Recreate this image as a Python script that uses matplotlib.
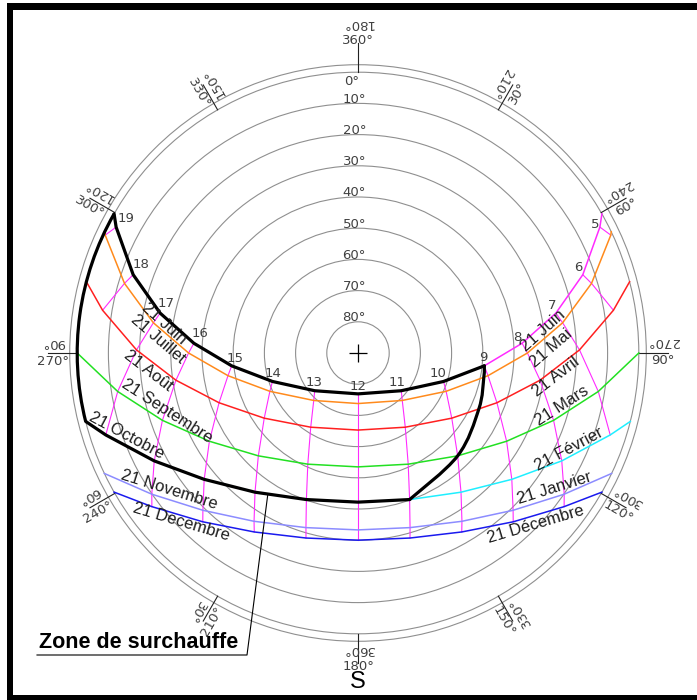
import numpy as np
import matplotlib
matplotlib.use("Agg")
import matplotlib.pyplot as plt
from matplotlib.patches import Circle, Arc, Rectangle, PathPatch
from matplotlib.path import Path

JUIN_H   = [4.75, 5, 6, 7, 8, 9, 10, 11, 12, 13, 14, 15, 16, 17, 18, 19, 19.25]
JUIN_AZ  = [60.3, 62.5, 70.8, 78.6, 86.6, 95.8, 108.4, 131.1, 180.0, 228.9, 251.6, 264.2, 273.4, 281.4, 289.2, 297.5, 299.7]
JUIN_ALT = [0.0, 2.6, 13.7, 25.3, 37.3, 49.3, 61.1, 71.6, 76.9, 71.6, 61.1, 49.3, 37.3, 25.3, 13.7, 2.6, 0.0]

MAI_H   = [4.94, 5, 6, 7, 8, 9, 10, 11, 12, 13, 14, 15, 16, 17, 18, 19, 19.06]
MAI_AZ  = [64.4, 65.0, 73.4, 81.6, 90.0, 99.9, 113.5, 137.0, 180.0, 223.0, 246.5, 260.1, 270.0, 278.4, 286.6, 295.0, 295.6]
MAI_ALT = [0.0, 0.6, 11.9, 23.7, 35.7, 47.7, 59.2, 69.2, 73.8, 69.2, 59.2, 47.7, 35.7, 23.7, 11.9, 0.6, 0.0]

AVRIL_H   = [5.41, 6, 7, 8, 9, 10, 11, 12, 13, 14, 15, 16, 17, 18, 18.59]
AVRIL_AZ  = [75.3, 80.5, 89.2, 98.5, 109.7, 124.8, 147.5, 180.0, 212.5, 235.2, 250.3, 261.5, 270.8, 279.5, 284.7]
AVRIL_ALT = [0.0, 7.0, 19.0, 31.0, 42.7, 53.4, 61.8, 65.3, 61.8, 53.4, 42.7, 31.0, 19.0, 7.0, 0.0]

MARS_H   = [6, 7, 8, 9, 10, 11, 12, 13, 14, 15, 16, 17, 18]
MARS_AZ  = [90.0, 99.1, 109.0, 120.7, 135.9, 155.7, 180.0, 204.3, 224.1, 239.3, 251.0, 260.9, 270.0]
MARS_ALT = [0.0, 12.0, 23.7, 34.6, 44.1, 50.9, 53.5, 50.9, 44.1, 34.6, 23.7, 12.0, 0.0]

FEV_H   = [6.57, 7, 8, 9, 10, 11, 12, 13, 14, 15, 16, 17, 17.43]
FEV_AZ  = [104.1, 108.0, 117.9, 129.4, 143.5, 160.6, 180.0, 199.4, 216.5, 230.6, 242.1, 252.0, 255.9]
FEV_ALT = [0.0, 5.0, 16.1, 26.2, 34.5, 40.2, 42.2, 40.2, 34.5, 26.2, 16.1, 5.0, 0.0]

JANV_H   = [7.05, 8, 9, 10, 11, 12, 13, 14, 15, 16, 16.95]
JANV_AZ  = [115.4, 124.4, 135.4, 148.3, 163.4, 180.0, 196.6, 211.7, 224.6, 235.6, 244.6]
JANV_ALT = [0.0, 9.9, 19.2, 26.6, 31.6, 33.3, 31.6, 26.6, 19.2, 9.9, 0.0]

DEC_H   = [7.25, 8, 9, 10, 11, 12, 13, 14, 15, 16, 16.75]
DEC_AZ  = [119.7, 126.7, 137.4, 149.9, 164.3, 180.0, 195.7, 210.1, 222.6, 233.3, 240.3]
DEC_ALT = [0.0, 7.6, 16.5, 23.7, 28.4, 30.0, 28.4, 23.7, 16.5, 7.6, 0.0]

# début de la zone de surchauffe (heure) pour juin, juil., août, sept., oct.
ZONE_HOURS = [9.0, 9.1, 9.4, 10.0, 11.0]

LABELS_EST   = ["21 Juin", "21 Mai", "21 Avril", "21 Mars", "21 Février", "21 Janvier", "21 Décembre"]
LABELS_OUEST = ["21 Juin", "21 Juillet", "21 Août", "21 Septembre", "21 Octobre", "21 Novembre", "21 Decembre"]

RINGS    = [0, 10, 20, 30, 40, 50, 60, 70, 80]
AZ_TICKS = [0, 30, 60, 90, 120, 150, 180, 210, 240, 270, 300, 330]
HOURS    = list(range(5, 20))

# --- mise en page ---
W, H = 697, 700
CX, CY = 358, 353          # centre du diagramme, px depuis le coin haut-gauche
PX = 3.12                  # px par degré
GRID = "#8f8f8f"
TXT = "#404040"
MAGENTA = "#ff2bff"
COLORS = [MAGENTA, "#ff8a1c", "#ff2020", "#22e022", "#1fefff", "#8c8cff", "#1a1aee"]

# position des étiquettes de dates : (heure sur la courbe, décalage px vers le bas)
POS_EST   = [(7.47, 5.0), (7.54, 11.8), (7.71, 7.0), (7.71, -7.7), (7.78, -6.3), (8.15, -8.4), (8.60, 9.0)]
POS_OUEST = [(16.79, 5.4), (16.69, 9.7), (16.56, 10.0), (16.02, -9.8), (16.65, -9.1), (15.72, -9.8), (15.39, 6.8)]
HOUR_OFF = {5: (-5, 3), 6: (-5, 7), 7: (-4, 8), 8: (-5, 6), 9: (-1, 8), 10: (-6, 8), 11: (-4, 8),
            12: (0, 7), 13: (-1, 8), 14: (1, 8), 15: (3, 7), 16: (6, 10), 17: (6, 10), 18: (8, 10), 19: (10, 9)}

CURVES = [(JUIN_H, JUIN_AZ, JUIN_ALT), (MAI_H, MAI_AZ, MAI_ALT), (AVRIL_H, AVRIL_AZ, AVRIL_ALT),
          (MARS_H, MARS_AZ, MARS_ALT), (FEV_H, FEV_AZ, FEV_ALT), (JANV_H, JANV_AZ, JANV_ALT),
          (DEC_H, DEC_AZ, DEC_ALT)]


def proj(az, alt):
    # projection azimutale équidistante, Nord en haut
    a = np.radians(np.asarray(az, float))
    z = 90.0 - np.asarray(alt, float)
    return z * np.sin(a), z * np.cos(a)


def pix(x, y):
    return (x - CX) / PX, (CY - y) / PX


def at_hour(curve, h):
    hs, az, alt = curve
    x, y = proj(az, alt)
    i = max(j for j in range(len(hs) - 1) if hs[j] <= h)
    t = (h - hs[i]) / (hs[i + 1] - hs[i])
    px, py = x[i] + t * (x[i + 1] - x[i]), y[i] + t * (y[i + 1] - y[i])
    ang = np.degrees(np.arctan2(y[i + 1] - y[i], x[i + 1] - x[i]))
    return px, py, ang


def smooth_path(pts):
    # courbe de Bézier passant par les points (tangentes de Catmull-Rom)
    p = [np.array(q, float) for q in pts]
    p = [p[0]] + p + [p[-1]]
    verts, codes = [p[1]], [Path.MOVETO]
    for i in range(1, len(p) - 2):
        verts += [p[i] + (p[i + 1] - p[i - 1]) / 6, p[i + 1] - (p[i + 2] - p[i]) / 6, p[i + 1]]
        codes += [Path.CURVE4] * 3
    return Path(verts, codes)


fig = plt.figure(figsize=(W / 100, H / 100), dpi=100)
ax = fig.add_axes([0, 0, 1, 1])
ax.set_xlim(-CX / PX, (W - CX) / PX)
ax.set_ylim(-(H - CY) / PX, CY / PX)
ax.axis("off")

# cadre
for x0, y0, w, h in [(7, 3, 690, 7), (7, 3, 6, 697), (7, 695, 690, 5)]:
    fig.add_artist(Rectangle((x0 / W, 1 - (y0 + h) / H), w / W, h / H,
                             transform=fig.transFigure, color="black", lw=0))

# cercles de hauteur
for alt in RINGS:
    ax.add_patch(Circle((0, 0), 90 - alt, fill=False, ec=GRID, lw=0.8, zorder=1))
ax.add_patch(Circle((0, 0), 92.4, fill=False, ec=GRID, lw=0.8, zorder=1))
for alt in RINGS:
    if alt == 0:
        ax.annotate("0°", (0, 90), xytext=(-14, -3), textcoords="offset pixels",
                    ha="left", va="top", fontsize=9.5, color=TXT)
    else:
        ax.annotate(f"{alt}°", (0, 90 - alt), xytext=(-15.5, 0.5), textcoords="offset pixels",
                    ha="left", va="baseline", fontsize=9.5, color=TXT)
ax.plot(0, 0, marker="+", ms=13, mew=0.9, color="black", zorder=5)

# graduations d'azimut
for a in AZ_TICKS:
    ux, uy = np.sin(np.radians(a)), np.cos(np.radians(a))
    ax.plot([90 * ux, 99.2 * ux], [90 * uy, 99.2 * uy], color="#222222", lw=0.8, zorder=2)
    up = f"{a if a else 360}°"
    inv = f"{(a + 180) % 360 or 360}°"
    kw = dict(textcoords="offset pixels", ha="center", va="center", fontsize=9.5, color=TXT,
              rotation_mode="anchor")
    if a == 0:
        ax.annotate(up, (0, 312 / PX), xytext=(0, 0), **kw)
        ax.annotate(inv, (0, 329 / PX), xytext=(0, 0), rotation=180, **kw)
        continue
    if a == 180:
        ax.annotate(inv, (0, -297 / PX), xytext=(0, 0), rotation=180, **kw)
        ax.annotate(up, (0, -313 / PX), xytext=(0, 0), **kw)
        ax.annotate("S", (0, -329 / PX), xytext=(0, 0), textcoords="offset pixels",
                    ha="center", va="center", fontsize=17, family="Liberation Sans")
        continue
    rot = (90 - a + 180) % 360 - 180
    if rot > 90:
        rot -= 180
    elif rot <= -90:
        rot += 180
    r = 305 / PX
    dn = np.radians(rot - 90)
    ax.annotate(up, (r * ux, r * uy), xytext=(8 * np.cos(dn), 8 * np.sin(dn)), rotation=rot, **kw)
    ax.annotate(inv, (r * ux, r * uy), xytext=(-11 * np.cos(dn), -11 * np.sin(dn)),
                rotation=rot + 180, **kw)

# lignes horaires
for h in HOURS:
    xs, ys = [], []
    for hs, az, alt in CURVES:
        if h in hs and alt[hs.index(h)] > 0:
            x, y = proj(az[hs.index(h)], alt[hs.index(h)])
            xs.append(x)
            ys.append(y)
    ax.plot(xs, ys, color=MAGENTA, lw=0.8, zorder=2)

# courbes des dates
for (hs, az, alt), c in zip(CURVES, COLORS):
    x, y = proj(az, alt)
    ax.plot(x, y, color=c, lw=1.1, zorder=3)

# zone de surchauffe : 21 octobre (coucher -> 11h), bord est, 21 juin (9h -> coucher), horizon
jx, jy = proj(JUIN_AZ, JUIN_ALT)
fx, fy = proj(FEV_AZ, FEV_ALT)
j9, f11 = JUIN_H.index(9), FEV_H.index(11)
zk = dict(color="black", lw=2.3, zorder=4)
ax.plot(fx[f11:], fy[f11:], solid_capstyle="round", solid_joinstyle="round", **zk)
ax.plot(jx[j9:], jy[j9:], solid_capstyle="round", solid_joinstyle="round", **zk)
edge = [at_hour(CURVES[k], ZONE_HOURS[k])[:2] for k in range(4, -1, -1)]
ax.add_patch(PathPatch(smooth_path(edge), fill=False, capstyle="round", **zk))
ax.add_patch(Arc((0, 0), 180, 180, theta1=90 - JUIN_AZ[-1] + 360, theta2=90 - FEV_AZ[-1] + 360, **zk))

# heures
for h in HOURS:
    if h in JUIN_H:
        x, y = proj(JUIN_AZ[JUIN_H.index(h)], JUIN_ALT[JUIN_H.index(h)])
        ax.annotate(str(h), (x, y), xytext=HOUR_OFF[h], textcoords="offset pixels",
                    ha="center", va="center", fontsize=9.5, color=TXT, zorder=6)

# noms des dates
for labels, poss in [(LABELS_EST, POS_EST), (LABELS_OUEST, POS_OUEST)]:
    for lab, (h, off), curve in zip(labels, poss, CURVES):
        x, y, ang = at_hour(curve, h)
        if ang > 90:
            ang -= 180
        elif ang <= -90:
            ang += 180
        n = np.radians(ang - 90)
        ax.annotate(lab, (x, y), xytext=(off * np.cos(n), off * np.sin(n)), textcoords="offset pixels",
                    rotation=ang, rotation_mode="anchor", ha="center", va="center",
                    fontsize=12, family="Liberation Sans", color="#1e1e1e", zorder=6)

# légende de la zone
tx, ty, _ = at_hour(CURVES[4], 13.75)
ax.plot([pix(37, 655)[0], pix(247, 655)[0], tx], [pix(37, 655)[1], pix(247, 655)[1], ty],
        color="black", lw=0.8, zorder=5)
ax.text(*pix(39, 648), "Zone de surchauffe", fontsize=15.5, fontweight="bold",
        family="Liberation Sans", ha="left", va="baseline")

fig.savefig("out.png", dpi=100)
